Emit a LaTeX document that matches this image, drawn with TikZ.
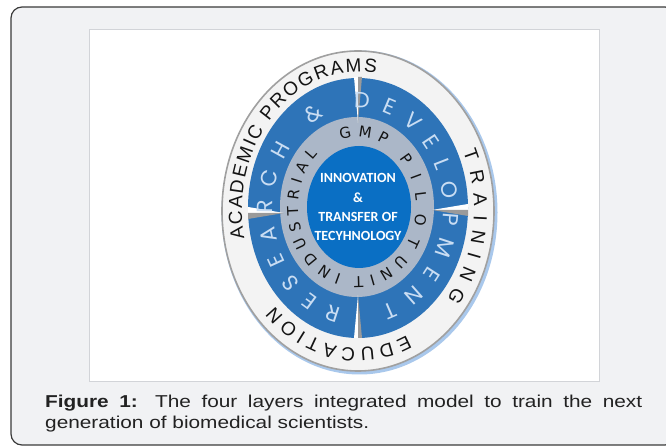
\documentclass[tikz,border=0pt]{standalone}
\usepackage{fontspec}
\setmainfont{Liberation Sans}
\newfontfamily\capfont{Liberation Sans}[FakeStretch=1.21]
\newfontfamily\ringfont{Liberation Sans}
\newfontfamily\rdfont{Poppins}
\newfontfamily\grayfont{DejaVu Sans}
\newfontfamily\cfont{Carlito}
\usetikzlibrary{decorations.text}
\definecolor{framefill}{HTML}{F1F2F4}
\definecolor{framedraw}{HTML}{3A3A3A}
\definecolor{boxline}{HTML}{D2D4D8}
\definecolor{glow}{HTML}{A9C8EC}
\definecolor{ringwhite}{HTML}{F3F3F3}
\definecolor{ringedge}{HTML}{A0A0A0}
\definecolor{bluering}{HTML}{2E74B8}
\definecolor{grayring}{HTML}{ABB7C8}
\definecolor{innerblue}{HTML}{0A6FC4}
\definecolor{rdtext}{HTML}{C9DDF3}
\definecolor{darktext}{HTML}{141414}
\definecolor{captext}{HTML}{222222}
\definecolor{spikedark}{HTML}{9A9A9A}
\tikzset{
  outertext/.style={decorate, decoration={text along path, text align=fit to path, text color=darktext,
     text format delimiters={|}{|}}},
  spikelight/.style={fill=white},
  spikeshade/.style={fill=spikedark},
}
\begin{document}
\begin{tikzpicture}[x=1pt,y=1pt]
\useasboundingbox (0,0) rectangle (666,446);
\begin{scope}
\clip (0,0) rectangle (666,446);
\draw[fill=framefill, draw=framedraw, line width=1.2pt, rounded corners=11pt] (11,1) rectangle (676,439);
\end{scope}
\draw[fill=white, draw=boxline, line width=0.8pt] (89,65) rectangle (599,417);

% rings
\fill[glow] (359.5,233.5) ellipse[x radius=138, y radius=162];
\draw[fill=ringwhite, draw=ringedge, line width=1.6pt] (358,235) ellipse[x radius=136, y radius=160];
\fill[bluering] (358,238) ellipse[x radius=110, y radius=130];
\fill[grayring] (357,239) ellipse[x radius=77, y radius=90];
\fill[innerblue] (359,239) ellipse[x radius=52, y radius=61];

% spikes
\fill[spikelight] (354,369) -- (358,369) -- (358,323) -- cycle;
\fill[spikeshade] (358,369) -- (362,369) -- (358,323) -- cycle;
\fill[spikelight] (248,239) -- (248,233) -- (284,233) -- cycle;
\fill[spikeshade] (248,233) -- (248,227) -- (284,233) -- cycle;
\fill[spikelight] (468,242) -- (468,236) -- (432,236) -- cycle;
\fill[spikeshade] (468,236) -- (468,230) -- (432,236) -- cycle;
\fill[spikelight] (354,108) -- (358,108) -- (358,151) -- cycle;
\fill[spikeshade] (358,108) -- (362,108) -- (358,151) -- cycle;

% outer ring texts
\path[outertext, decoration={text={|\ringfont\fontsize{19}{19}\selectfont|ACADEMIC PROGRAMS}}]
  ([shift={(358,236)}]192:116 and 138) arc[start angle=192, end angle=81, x radius=116, y radius=138];
\path[outertext, decoration={text={|\ringfont\fontsize{19}{19}\selectfont|TRAINING}}]
  ([shift={(358,236)}]25:116 and 138) arc[start angle=25, end angle=-40, x radius=116, y radius=138];
\path[outertext, decoration={text={|\ringfont\fontsize{19}{19}\selectfont|EDUCATION}}]
  ([shift={(358,236)}]-65:116 and 138) arc[start angle=-65, end angle=-136, x radius=116, y radius=138];

% blue ring text
\path[outertext, decoration={text color=rdtext, text={|\rdfont\fontsize{22}{22}\selectfont|RESEARCH {\&} DEVELOPMENT}}]
  ([shift={(358,237)}]259:85 and 101) arc[start angle=259, end angle=-74, x radius=85, y radius=101];

% gray ring texts
\path[outertext, decoration={text={|\grayfont\fontsize{15}{15}\selectfont|INDUSTRIAL}}]
  ([shift={(357,239)}]255:59 and 70) arc[start angle=255, end angle=131, x radius=59, y radius=70];
\path[outertext, decoration={text={|\grayfont\fontsize{15}{15}\selectfont|GMP}}]
  ([shift={(357,239)}]106:59 and 70) arc[start angle=106, end angle=62, x radius=59, y radius=70];
\path[outertext, decoration={text={|\grayfont\fontsize{15}{15}\selectfont|PILOT}}]
  ([shift={(357,239)}]44:59 and 70) arc[start angle=44, end angle=-33, x radius=59, y radius=70];
\path[outertext, decoration={text={|\grayfont\fontsize{15}{15}\selectfont|UNIT}}]
  ([shift={(357,239)}]-43:59 and 70) arc[start angle=-43, end angle=-93, x radius=59, y radius=70];

% centre text
\tikzset{ctext/.style={anchor=base, inner sep=0, text=white, font=\cfont\bfseries\fontsize{14}{14}\selectfont}}
\node[ctext] (c1) at (358,263) {INNOVATION};
\node[ctext] (c2) at (358,243) {\&};
\node[ctext] (c3) at (358,224) {TRANSFER OF};
\node[ctext] (c4) at (358,205) {TECYHNOLOGY};

% caption
\node[anchor=base west, inner sep=0, text=captext, font=\capfont\fontsize{17.2}{21}\selectfont] (cap1) at (45,38.7)
  {\makebox[597pt][s]{\textbf{Figure 1:} The four layers integrated model to train the next}};
\node[anchor=base west, inner sep=0, text=captext, font=\capfont\fontsize{17.2}{21}\selectfont] (cap2) at (45,17.7)
  {generation of biomedical scientists.};
\end{tikzpicture}
\end{document}
